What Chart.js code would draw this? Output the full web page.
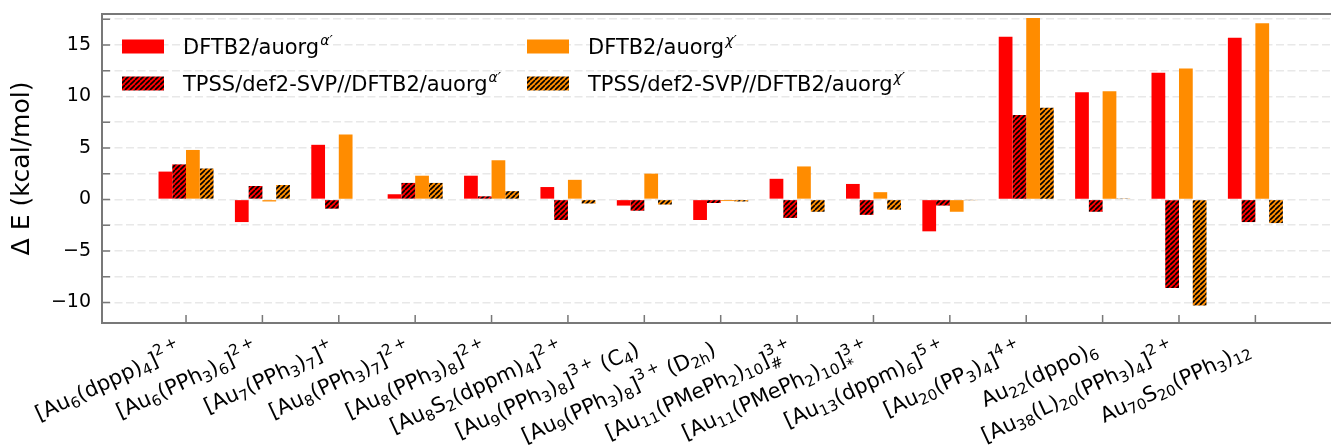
<!DOCTYPE html>
<html>
<head>
<meta charset="utf-8">
<script src="https://cdn.jsdelivr.net/npm/chart.js@4.4.1/dist/chart.umd.min.js"></script>
<style>
  html, body { margin: 0; padding: 0; background: #fff; overflow: hidden; }
  #cadre { width: 1331px; height: 445px; }
</style>
</head>
<body>
<div id="cadre"><canvas id="graphique" width="1331" height="445"></canvas></div>
<script>
// Données (kcal/mol)
const categories = [
  '[Au_{6}(dppp)_{4}]^{2+}',
  '[Au_{6}(PPh_{3})_{6}]^{2+}',
  '[Au_{7}(PPh_{3})_{7}]^{+}',
  '[Au_{8}(PPh_{3})_{7}]^{2+}',
  '[Au_{8}(PPh_{3})_{8}]^{2+}',
  '[Au_{8}S_{2}(dppm)_{4}]^{2+}',
  '[Au_{9}(PPh_{3})_{8}]^{3+} (C_{4})',
  '[Au_{9}(PPh_{3})_{8}]^{3+} (D_{2h})',
  '[Au_{11}(PMePh_{2})_{10}]^{3+}_{#}',
  '[Au_{11}(PMePh_{2})_{10}]^{3+}_{*}',
  '[Au_{13}(dppm)_{6}]^{5+}',
  '[Au_{20}(PP_{3})_{4}]^{4+}',
  'Au_{22}(dppo)_{6}',
  '[Au_{38}(L)_{20}(PPh_{3})_{4}]^{2+}',
  'Au_{70}S_{20}(PPh_{3})_{12}',
];
const dftbAlpha = [2.7, -2.2, 5.3, 0.5, 2.3, 1.2, -0.6, -2.0, 2.0, 1.5, -3.1, 15.8, 10.4, 12.3, 15.7];
const tpssAlpha = [3.4, 1.3, -0.9, 1.6, 0.3, -2.0, -1.1, -0.35, -1.8, -1.5, -0.6, 8.2, -1.2, -8.6, -2.2];
const dftbChi = [4.8, -0.2, 6.3, 2.3, 3.8, 1.9, 2.5, -0.16, 3.2, 0.7, -1.2, 17.6, 10.5, 12.7, 17.1];
const tpssChi = [3.0, 1.4, 0.0, 1.6, 0.8, -0.4, -0.5, -0.2, -1.2, -1.0, -0.05, 8.9, 0.1, -10.3, -2.3];
const legendNames = ['DFTB2/auorg', 'TPSS/def2-SVP//DFTB2/auorg', 'DFTB2/auorg', 'TPSS/def2-SVP//DFTB2/auorg'];
const legendSup = ['\u03B1\u2032', '\u03B1\u2032', '\u03C7\u2032', '\u03C7\u2032'];
const yTicks = [-10, -7.5, -5, -2.5, 0, 2.5, 5, 7.5, 10, 12.5, 15, 17.5];

const couleurs = {
  rouge: '#ff0000',
  orange: '#ff8c00',
  noir: '#000',
  axe: '#787878',
  grille: '#e8e8e8',
};
const POLICE = 'DejaVu Sans';
const canvas = document.getElementById('graphique');

const hachure = (fond) => {
  const taille = 5;
  const tuile = document.createElement('canvas');
  tuile.width = taille;
  tuile.height = taille;
  const c = tuile.getContext('2d');
  c.fillStyle = fond;
  c.fillRect(0, 0, taille, taille);
  c.strokeStyle = couleurs.noir;
  c.lineWidth = 1.6;
  c.beginPath();
  [-taille, 0, taille].forEach((d) => { c.moveTo(d, taille); c.lineTo(d + taille, 0); });
  c.stroke();
  return canvas.getContext('2d').createPattern(tuile, 'repeat');
};

const series = [
  { valeurs: dftbAlpha, fond: couleurs.rouge },
  { valeurs: tpssAlpha, fond: hachure(couleurs.rouge) },
  { valeurs: dftbChi, fond: couleurs.orange },
  { valeurs: tpssChi, fond: hachure(couleurs.orange) },
];

// texte avec indices/exposants : _{..} et ^{..}
const decoupe = (texte) => {
  const morceaux = [];
  const re = /([_^])\{([^}]*)\}|([^_^]+)/g;
  let m = re.exec(texte);
  while (m) {
    if (m[3]) morceaux.push({ type: 'n', texte: m[3] });
    else morceaux.push({ type: m[1] === '^' ? 'sup' : 'sub', texte: m[2].replace(/(\d)\+/, '$1\u2009+') });
    m = re.exec(texte);
  }
  return morceaux;
};

const mise = (ctx, texte, tPrinc, tScript) => {
  const fPrinc = `${tPrinc}px "${POLICE}"`;
  const fScript = `${tScript}px "${POLICE}"`;
  const morceaux = decoupe(texte);
  const items = [];
  let x = 0;
  for (let i = 0; i < morceaux.length; i += 1) {
    const p = morceaux[i];
    if (p.type === 'n') {
      ctx.font = fPrinc;
      items.push({ texte: p.texte, x, dy: 0, font: fPrinc });
      x += ctx.measureText(p.texte).width;
    } else {
      ctx.font = fScript;
      const w = ctx.measureText(p.texte).width;
      items.push({ texte: p.texte, x, dy: p.type === 'sup' ? -9.5 : 4, font: fScript });
      const suivant = morceaux[i + 1];
      if (p.type === 'sup' && suivant && suivant.type === 'sub') {
        const w2 = ctx.measureText(suivant.texte).width;
        items.push({ texte: suivant.texte, x, dy: 6, font: fScript });
        i += 1;
        x += Math.max(w, w2);
      } else {
        x += w;
      }
    }
  }
  return { items, largeur: x };
};

const habillage = {
  id: 'habillage',
  afterDraw(chart) {
    const { ctx, chartArea } = chart;
    const { left, right, top, bottom } = chartArea;
    const sx = chart.scales.x;
    const sy = chart.scales.y;
    ctx.save();
    // cadre haut
    ctx.strokeStyle = couleurs.axe;
    ctx.lineWidth = 2;
    ctx.beginPath();
    ctx.moveTo(left - 1, top);
    ctx.lineTo(right, top);
    ctx.stroke();
    // graduations vers l'intérieur
    ctx.lineWidth = 1.5;
    ctx.beginPath();
    yTicks.forEach((v) => {
      const y = sy.getPixelForValue(v);
      ctx.moveTo(left, y);
      ctx.lineTo(left + 8, y);
    });
    categories.forEach((_, i) => {
      const x = sx.getPixelForValue(i);
      ctx.moveTo(x, bottom);
      ctx.lineTo(x, bottom - 8);
    });
    ctx.stroke();
    // étiquettes des catégories, inclinées
    const angle = (25 * Math.PI) / 180;
    ctx.fillStyle = couleurs.noir;
    ctx.textBaseline = 'alphabetic';
    ctx.textAlign = 'left';
    categories.forEach((cat, i) => {
      const { items, largeur } = mise(ctx, cat, 21, 15);
      ctx.save();
      ctx.translate(sx.getPixelForValue(i) - 12, bottom + 13);
      ctx.rotate(-angle);
      items.forEach((it) => {
        ctx.font = it.font;
        ctx.fillText(it.texte, it.x - largeur, 20 + it.dy);
      });
      ctx.restore();
    });
    // légende
    const colX = [122, 527];
    const rangY = [46.5, 83.5];
    [[0, 0], [1, 0], [0, 1], [1, 1]].forEach(([r, c], k) => {
      const x = colX[c];
      const y = rangY[r];
      ctx.fillStyle = series[k].fond;
      ctx.fillRect(x, y - 7, 42, 14);
      ctx.fillStyle = couleurs.noir;
      ctx.font = `21px "${POLICE}"`;
      ctx.fillText(legendNames[k], x + 61, y + 7.5);
      const w = ctx.measureText(legendNames[k]).width;
      ctx.font = `italic 14px "${POLICE}"`;
      ctx.fillText(legendSup[k], x + 61 + w + 1, y - 2);
    });
    ctx.restore();
  },
};

const sansMarge = (s) => {
  s.paddingTop = 0;
  s.paddingBottom = 0;
  s.paddingLeft = 0;
  s.paddingRight = 0;
};

/* eslint-disable no-new */
new Chart(canvas, {
  type: 'bar',
  data: {
    datasets: series.map((s) => ({
      data: s.valeurs.map((y, i) => ({ x: i, y })),
      backgroundColor: s.fond,
      borderWidth: 0,
    })),
  },
  options: {
    responsive: false,
    animation: false,
    events: [],
    layout: { padding: { top: 14, right: 0, bottom: 0, left: 0 } },
    datasets: { bar: { categoryPercentage: 0.72, barPercentage: 1 } },
    plugins: { legend: { display: false }, tooltip: { enabled: false } },
    scales: {
      x: {
        type: 'linear',
        offset: false,
        min: -1.1,
        max: 14.99,
        afterBuildTicks: (s) => { s.ticks = categories.map((_, i) => ({ value: i })); },
        ticks: { display: false },
        grid: { display: false },
        border: { color: couleurs.axe, width: 2 },
        afterFit: (s) => { s.height = 122; sansMarge(s); },
      },
      y: {
        min: -12,
        max: 18,
        afterBuildTicks: (s) => { s.ticks = yTicks.map((v) => ({ value: v })); },
        ticks: {
          padding: 11,
          color: couleurs.noir,
          font: { family: POLICE, size: 19 },
          callback: (v) => (v % 5 === 0 ? String(v).replace('-', '\u2212') : ''),
        },
        grid: { color: couleurs.grille, lineWidth: 1.5, drawTicks: false },
        border: { color: couleurs.axe, width: 2, dash: [8, 3.5] },
        title: {
          display: true,
          text: '\u0394 E (kcal/mol)',
          color: couleurs.noir,
          font: { family: POLICE, size: 25 },
          padding: { top: 7, bottom: 0 },
        },
        afterFit: (s) => { s.width = 102; sansMarge(s); },
      },
    },
  },
  plugins: [habillage],
});
/* eslint-enable no-new */
</script>
</body>
</html>
